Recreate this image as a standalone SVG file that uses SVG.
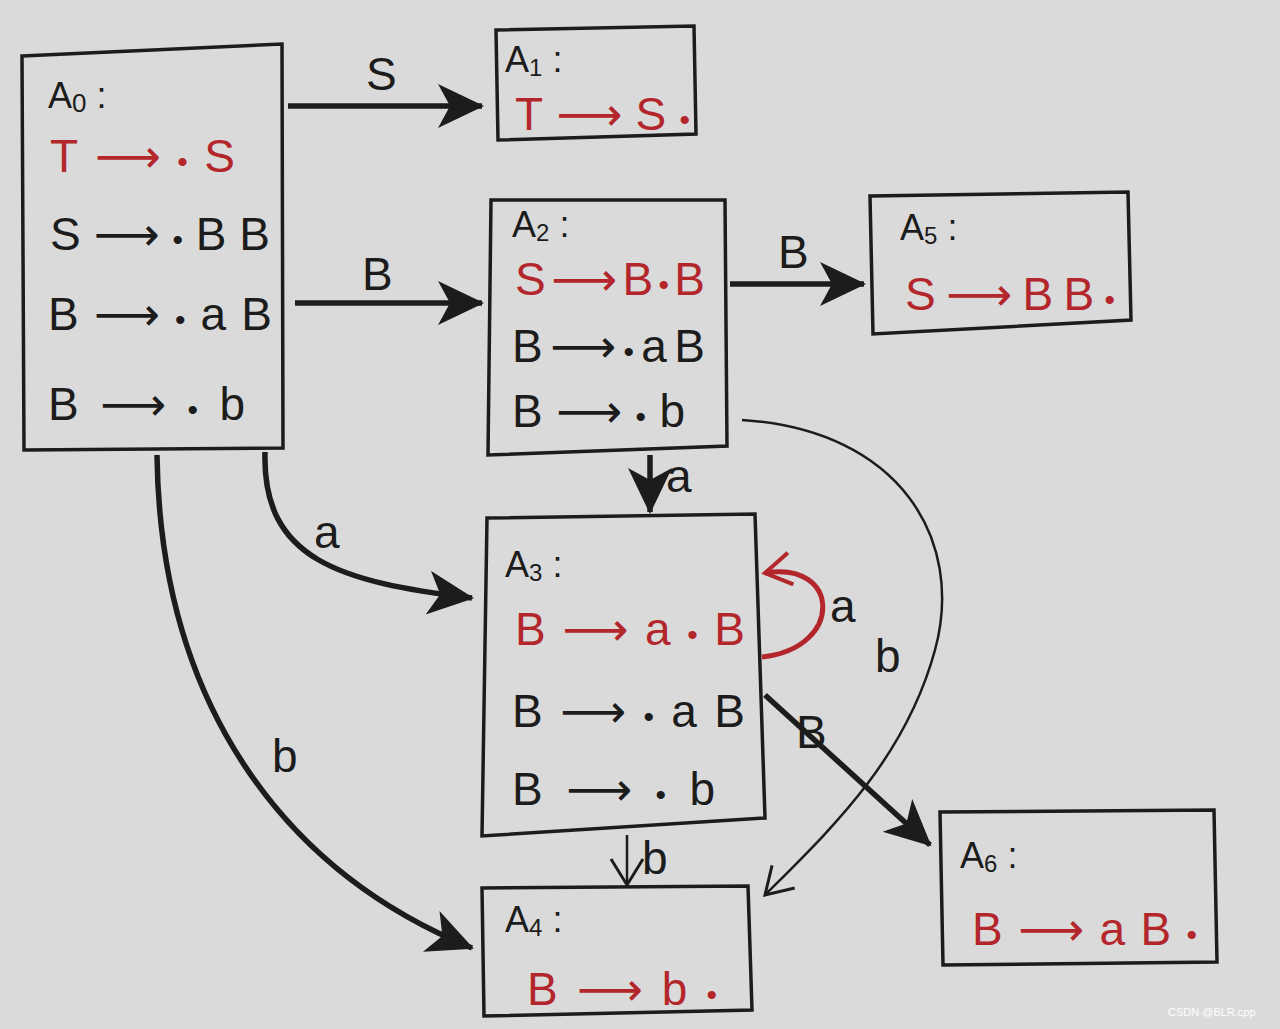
<svg xmlns="http://www.w3.org/2000/svg" width="1280" height="1029" viewBox="0 0 1280 1029">
<style>
.box{fill:none;stroke:#1c1c1c;stroke-width:3.5}
.t{font-family:"Liberation Sans","DejaVu Sans",sans-serif;font-size:46px;fill:#1c1c1c}
.r{fill:#b3262b}
.d{font-size:30px}
.h{font-family:"Liberation Sans","DejaVu Sans",sans-serif;font-size:36px;fill:#1c1c1c}
.lbl{font-family:"Liberation Sans","DejaVu Sans",sans-serif;font-size:46px;fill:#1c1c1c}
.thick{fill:none;stroke:#1c1c1c;stroke-width:5.5}
.thin{fill:none;stroke:#1c1c1c;stroke-width:2.5}
</style>
<defs>
<marker id="fh" markerUnits="userSpaceOnUse" markerWidth="50" markerHeight="46" refX="44" refY="22" orient="auto">
<path d="M0,0 L46,22 L0,44 L12,22 z" fill="#1c1c1c"/>
</marker>
<marker id="oh" markerUnits="userSpaceOnUse" markerWidth="40" markerHeight="40" refX="30" refY="18" orient="auto">
<path d="M4,2 L30,18 L4,34" fill="none" stroke="#1c1c1c" stroke-width="3"/>
</marker>
<marker id="ohr" markerUnits="userSpaceOnUse" markerWidth="40" markerHeight="40" refX="30" refY="18" orient="auto">
<path d="M4,2 L30,18 L4,34" fill="none" stroke="#b3262b" stroke-width="4"/>
</marker>
</defs>
<rect width="1280" height="1029" fill="#dadada"/>

<g id="A0">
<path class="box" d="M22,56 L282,44 L283,448 L24,450 Z"/>
<text class="h" x="48" y="108">A<tspan font-size="26" dy="4">0</tspan><tspan dy="-4"> :</tspan></text>
<text class="t r" x="50" y="172" textLength="185" lengthAdjust="spacing">T⟶<tspan class="d">•</tspan>S</text>
<text class="t" x="50" y="250" textLength="220" lengthAdjust="spacing">S⟶<tspan class="d">•</tspan>BB</text>
<text class="t" x="48" y="330" textLength="224" lengthAdjust="spacing">B⟶<tspan class="d">•</tspan>aB</text>
<text class="t" x="48" y="420" textLength="197" lengthAdjust="spacing">B⟶<tspan class="d">•</tspan>b</text>
</g>

<g id="A1">
<path class="box" d="M496,30 L694,26 L696,134 L498,140 Z"/>
<text class="h" x="505" y="72">A<tspan font-size="24" dy="4">1</tspan><tspan dy="-4"> :</tspan></text>
<text class="t r" x="515" y="130" textLength="175" lengthAdjust="spacing">T⟶S<tspan class="d">•</tspan></text>
</g>

<g id="A2">
<path class="box" d="M491,200 L725,200 L727,446 L488,455 Z"/>
<text class="h" x="512" y="237">A<tspan font-size="24" dy="4">2</tspan><tspan dy="-4"> :</tspan></text>
<text class="t r" x="515" y="295" textLength="190" lengthAdjust="spacing">S⟶B<tspan class="d">•</tspan>B</text>
<text class="t" x="512" y="362" textLength="193" lengthAdjust="spacing">B⟶<tspan class="d">•</tspan>aB</text>
<text class="t" x="512" y="427" textLength="173" lengthAdjust="spacing">B⟶<tspan class="d">•</tspan>b</text>
</g>

<g id="A5">
<path class="box" d="M870,196 L1128,192 L1131,320 L873,334 Z"/>
<text class="h" x="900" y="240">A<tspan font-size="24" dy="4">5</tspan><tspan dy="-4"> :</tspan></text>
<text class="t r" x="905" y="310" textLength="210" lengthAdjust="spacing">S⟶BB<tspan class="d">•</tspan></text>
</g>

<g id="A3">
<path class="box" d="M487,518 L755,514 L765,818 L482,836 Z"/>
<text class="h" x="505" y="577">A<tspan font-size="24" dy="4">3</tspan><tspan dy="-4"> :</tspan></text>
<text class="t r" x="515" y="645" textLength="230" lengthAdjust="spacing">B⟶a<tspan class="d">•</tspan>B</text>
<text class="t" x="512" y="727" textLength="233" lengthAdjust="spacing">B⟶<tspan class="d">•</tspan>aB</text>
<text class="t" x="512" y="805" textLength="203" lengthAdjust="spacing">B⟶<tspan class="d">•</tspan>b</text>
</g>

<g id="A4">
<path class="box" d="M482,888 L748,886 L752,1010 L484,1016 Z"/>
<text class="h" x="505" y="932">A<tspan font-size="24" dy="4">4</tspan><tspan dy="-4"> :</tspan></text>
<text class="t r" x="527" y="1005" textLength="190" lengthAdjust="spacing">B⟶b<tspan class="d">•</tspan></text>
</g>

<g id="A6">
<path class="box" d="M940,812 L1214,810 L1217,962 L943,965 Z"/>
<text class="h" x="960" y="868">A<tspan font-size="24" dy="4">6</tspan><tspan dy="-4"> :</tspan></text>
<text class="t r" x="972" y="945" textLength="225" lengthAdjust="spacing">B⟶aB<tspan class="d">•</tspan></text>
</g>

<g id="connectors">
<path class="thick" d="M288,106 L482,106" marker-end="url(#fh)"/>
<text class="lbl" x="366" y="90">S</text>
<path class="thick" d="M295,303 L482,303" marker-end="url(#fh)"/>
<text class="lbl" x="362" y="290">B</text>
<path class="thick" d="M730,284 L864,284" marker-end="url(#fh)"/>
<text class="lbl" x="778" y="268">B</text>
<path class="thick" d="M650,455 L650,512" marker-end="url(#fh)"/>
<text class="lbl" x="666" y="492">a</text>
<path class="thick" d="M265,452 C262,560 340,582 472,598" marker-end="url(#fh)"/>
<text class="lbl" x="314" y="548">a</text>
<path class="thick" d="M157,455 C160,700 280,870 472,948" marker-end="url(#fh)"/>
<text class="lbl" x="272" y="772">b</text>
<path d="M762,657 C845,648 840,560 765,573" fill="none" stroke="#b3262b" stroke-width="5" marker-end="url(#ohr)"/>
<text class="lbl" x="830" y="622">a</text>
<path class="thin" d="M742,420 C900,430 965,540 935,650 C905,760 830,830 765,895" marker-end="url(#oh)"/>
<text class="lbl" x="875" y="672">b</text>
<path class="thick" d="M765,695 L930,845" marker-end="url(#fh)"/>
<text class="lbl" x="796" y="748">B</text>
<path class="thin" d="M627,835 L627,885" marker-end="url(#oh)"/>
<text class="lbl" x="642" y="874" font-size="38">b</text>
</g>
<text x="1168" y="1016" font-family="Liberation Sans, sans-serif" font-size="11" fill="#ffffff">CSDN @BLR.cpp</text>
</svg>
